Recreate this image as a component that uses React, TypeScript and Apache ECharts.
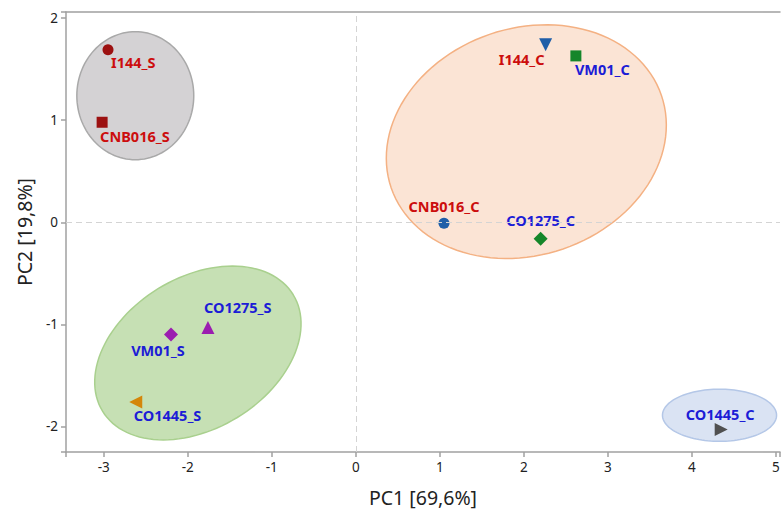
import React, { useEffect, useRef } from "react";
import * as echarts from "echarts";

// ---- data ----
const sampleNames = ["I144_S", "CNB016_S", "I144_C", "VM01_C", "CNB016_C", "CO1275_C", "CO1275_S", "VM01_S", "CO1445_S", "CO1445_C"];
const pc1 = [-2.95, -3.02, 2.26, 2.62, 1.05, 2.20, -1.76, -2.20, -2.62, 4.35];
const pc2 = [1.69, 0.98, 1.74, 1.63, -0.01, -0.16, -1.03, -1.10, -1.76, -2.03];

// confidence ellipses: center, semi-axes (PC1 units), rotation (deg)
const ellipseCx = [-2.625, 2.03, -1.88, 4.33];
const ellipseCy = [1.24, 0.79, -1.28, -1.89];
const ellipseA = [0.762, 1.70, 1.33, 0.679];
const ellipseB = [0.696, 1.35, 0.90, 0.31];
const ellipseAngle = [90, 18.9, 31.4, 0];

const xTickLabels = ["-3", "-2", "-1", "0", "1", "2", "3", "4", "5"];
const yTickLabels = ["-2", "-1", "0", "1", "2"];

// ---- styles ----
const ellipseFill = ["#d4d2d4", "#fbe4d5", "#c6e0b4", "#dae3f3"];
const ellipseStroke = ["#a9a9a9", "#f4b183", "#a9d08e", "#b4c7e7"];

const RED = "#cc0d0d";
const BLUE = "#1c1cd6";
const pointStyle: Record<string, any> = {
  I144_S: { symbol: "circle", size: 11, rot: 0, color: "#9c1111", label: RED, align: "left", offset: [3, 12] },
  CNB016_S: { symbol: "rect", size: 11, rot: 0, color: "#9c1111", label: RED, align: "left", offset: [-2, 14] },
  I144_C: { symbol: "triangle", size: 13, rot: 180, color: "#1f5ea8", label: RED, align: "right", offset: [-1, 14] },
  VM01_C: { symbol: "rect", size: 11, rot: 0, color: "#15862a", label: BLUE, align: "left", offset: [-1, 13] },
  CNB016_C: { symbol: "circle", size: 11, rot: 0, color: "#1f5ea8", label: RED, align: "center", offset: [0, -17] },
  CO1275_C: { symbol: "diamond", size: 14, rot: 0, color: "#15862a", label: BLUE, align: "center", offset: [0, -19] },
  CO1275_S: { symbol: "triangle", size: 13, rot: 0, color: "#9b1db0", label: BLUE, align: "left", offset: [-4, -20] },
  VM01_S: { symbol: "diamond", size: 14, rot: 0, color: "#9b1db0", label: BLUE, align: "center", offset: [-13, 15] },
  CO1445_S: { symbol: "triangle", size: 13, rot: 90, color: "#d4860a", label: BLUE, align: "left", offset: [-2, 13] },
  CO1445_C: { symbol: "triangle", size: 13, rot: -90, color: "#505050", label: BLUE, align: "center", offset: [-1, -16] },
};

const FONT = "Noto Sans";

export default function App() {
  const ref = useRef<HTMLDivElement>(null);
  useEffect(() => {
    if (!ref.current) return;
    const chart = echarts.init(ref.current, undefined, { renderer: "svg" });

    const ellipseData = ellipseCx.map((cx, i) => [cx, ellipseCy[i], ellipseA[i], ellipseB[i], ellipseAngle[i]]);

    const scatterData = sampleNames.map((n, i) => {
      const s = pointStyle[n];
      return {
        name: n,
        value: [pc1[i], pc2[i]],
        symbol: s.symbol,
        symbolSize: s.size,
        symbolRotate: s.rot,
        itemStyle: { color: s.color, opacity: 1 },
        label: {
          show: true,
          formatter: n,
          position: "inside",
          align: s.align,
          verticalAlign: "middle",
          offset: s.offset,
          color: s.label,
          fontFamily: FONT,
          fontWeight: "bold",
          fontSize: 14.5,
        },
      };
    });

    const axisLine = { show: true, lineStyle: { color: "#a0a0a0", width: 1.5 } };
    const fmt = (list: string[]) => (v: number) => {
      const s = String(Math.round(v));
      return Math.abs(v - Math.round(v)) < 1e-6 && list.includes(s) ? s : "";
    };

    chart.setOption({
      animation: false,
      grid: { left: 66, right: 1, top: 12, bottom: 57, outerBoundsMode: "none", containLabel: false },
      xAxis: [
        {
          type: "value",
          min: -3.45,
          max: 5.05,
          splitNumber: 8,
          name: "PC1 [69,6%]",
          nameLocation: "middle",
          nameGap: 35,
          nameTextStyle: { fontFamily: FONT, fontSize: 19.5, color: "#222" },
          axisLine: { ...axisLine, onZero: false },
          axisTick: { show: true, length: 5, lineStyle: { color: "#a0a0a0", width: 1.5 } },
          axisLabel: { formatter: fmt(xTickLabels), fontFamily: FONT, fontSize: 13.5, color: "#222", margin: 8 },
          splitLine: { show: false },
        },
        {
          type: "value",
          position: "top",
          min: -3.45,
          max: 5.05,
          axisLine: { ...axisLine, onZero: false },
          axisTick: { show: false },
          axisLabel: { show: false },
          splitLine: { show: false },
        },
      ],
      yAxis: {
        type: "value",
        min: -2.25,
        max: 2.06,
        splitNumber: 4,
        name: "PC2 [19,8%]",
        nameLocation: "middle",
        nameGap: 32,
        nameTextStyle: { fontFamily: FONT, fontSize: 19.5, color: "#222" },
        axisLine: { ...axisLine, onZero: false },
        axisTick: { show: true, length: 5, lineStyle: { color: "#a0a0a0", width: 1.5 } },
        axisLabel: { formatter: fmt(yTickLabels), fontFamily: FONT, fontSize: 13.5, color: "#222", margin: 8 },
        splitLine: { show: false },
      },
      series: [
        {
          type: "custom",
          z: 1,
          encode: { x: 0, y: 1 },
          data: ellipseData,
          renderItem: (params: any, api: any) => {
            const cx = api.value(0);
            const cy = api.value(1);
            const a = api.value(2);
            const b = api.value(3);
            const th = (api.value(4) * Math.PI) / 180;
            const c = api.coord([cx, cy]);
            const sx = api.size([1, 1])[0];
            const pts: number[][] = [];
            for (let k = 0; k < 120; k++) {
              const t = (k / 120) * Math.PI * 2;
              const dx = a * Math.cos(th) * Math.cos(t) - b * Math.sin(th) * Math.sin(t);
              const dy = a * Math.sin(th) * Math.cos(t) + b * Math.cos(th) * Math.sin(t);
              pts.push([c[0] + dx * sx, c[1] - dy * sx]);
            }
            return {
              type: "polygon",
              shape: { points: pts },
              style: { fill: ellipseFill[params.dataIndex], stroke: ellipseStroke[params.dataIndex], lineWidth: 1.5 },
            };
          },
        },
        {
          type: "scatter",
          z: 3,
          data: scatterData,
          markLine: {
            silent: true,
            symbol: "none",
            label: { show: false },
            lineStyle: { color: "#d4d4d4", type: [6, 4], width: 1 },
            data: [{ xAxis: 0 }, { yAxis: 0 }],
          },
        },
      ],
    });
    return () => chart.dispose();
  }, []);
  return <div ref={ref} style={{ width: 781, height: 509, position: "absolute", left: 0, top: 0 }} />;
}
